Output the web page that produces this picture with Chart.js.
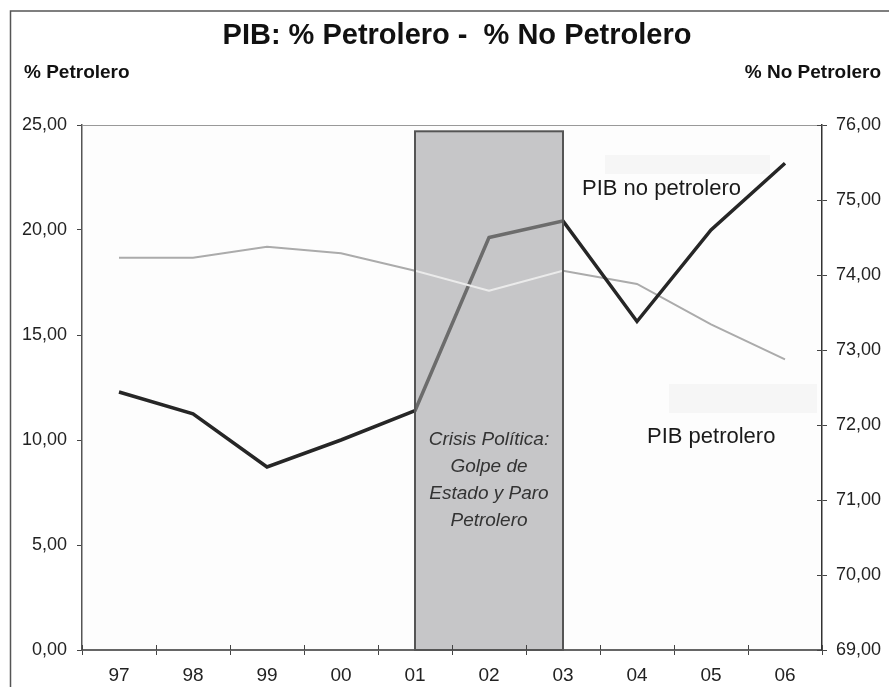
<!DOCTYPE html>
<html lang="es">
<head>
<meta charset="utf-8">
<title>PIB: % Petrolero - % No Petrolero</title>
<script src="https://cdn.jsdelivr.net/npm/chart.js@4.4.1/dist/chart.umd.min.js"></script>
<style>
  html, body { margin: 0; padding: 0; background: #fff; }
  #contenedor { position: relative; width: 889px; height: 687px; }
</style>
</head>
<body>
<div id="contenedor"><canvas id="graficoPib"></canvas></div>
<script>
// Datos
const anios = ['97', '98', '99', '00', '01', '02', '03', '04', '05', '06'];
const pibPetrolero = [18.68, 18.68, 19.20, 18.89, 18.06, 17.11, 18.06, 17.43, 15.51, 13.84];
const pibNoPetrolero = [72.44, 72.15, 71.44, 71.80, 72.19, 74.50, 74.72, 73.38, 74.60, 75.49];
const ticksPetrolero = [0, 5, 10, 15, 20, 25];
const ticksNoPetrolero = [69, 70, 71, 72, 73, 74, 75, 76];

// Periodo de la crisis (recuadro gris)
const crisisInicio = '01';
const crisisFin = '03';
const crisisTope = 24.7;
const crisisTexto = ['Crisis Política:', 'Golpe de', 'Estado y Paro', 'Petrolero'];

const FUENTE = '"Liberation Sans", Arial, sans-serif';
const formatoComa = v => Number(v).toFixed(2).replace('.', ',');

// Fondo, marco exterior y fondo del área de trazado
const pluginFondo = {
    id: 'pluginFondo',
    beforeDraw(chart) {
        const { ctx, chartArea: a } = chart;
        ctx.save();
        ctx.fillStyle = '#ffffff';
        ctx.fillRect(0, 0, chart.width, chart.height);
        ctx.fillStyle = '#fdfdfd';
        ctx.fillRect(a.left, a.top, a.right - a.left, a.bottom - a.top);
        ctx.strokeStyle = '#555555';
        ctx.lineWidth = 1.5;
        ctx.strokeRect(10.5, 11, chart.width + 20, chart.height + 20);
        ctx.restore();
    }
};

// Recuadro de la crisis, dibujado encima de las líneas
const pluginCrisis = {
    id: 'pluginCrisis',
    afterDatasetsDraw(chart) {
        const { ctx, scales: { x, y } } = chart;
        const x1 = x.getPixelForValue(anios.indexOf(crisisInicio));
        const x2 = x.getPixelForValue(anios.indexOf(crisisFin));
        const y1 = y.getPixelForValue(crisisTope);
        const y2 = y.getPixelForValue(0);

        ctx.save();
        ctx.fillStyle = '#c6c6c8';
        ctx.fillRect(x1, y1, x2 - x1, y2 - y1);

        // las líneas se ven atenuadas dentro del recuadro
        const coloresDentro = ['#6c6c6c', '#ebebeb'];
        ctx.beginPath();
        ctx.rect(x1, y1, x2 - x1, y2 - y1);
        ctx.clip();
        chart.data.datasets.forEach((ds, i) => {
            const pts = chart.getDatasetMeta(i).data;
            ctx.beginPath();
            pts.forEach((p, k) => k === 0 ? ctx.moveTo(p.x, p.y) : ctx.lineTo(p.x, p.y));
            ctx.strokeStyle = coloresDentro[i];
            ctx.lineWidth = ds.borderWidth;
            ctx.lineJoin = 'round';
            ctx.stroke();
        });
        ctx.restore();

        ctx.save();
        ctx.strokeStyle = '#555555';
        ctx.lineWidth = 2;
        ctx.strokeRect(x1, y1, x2 - x1, y2 - y1);

        ctx.fillStyle = '#333333';
        ctx.font = `italic 19px ${FUENTE}`;
        ctx.textAlign = 'center';
        ctx.textBaseline = 'middle';
        const cx = (x1 + x2) / 2;
        crisisTexto.forEach((t, i) => ctx.fillText(t, cx, 440 + i * 27));
        ctx.restore();
    }
};

// Títulos, etiquetas de series y marcas que cruzan los ejes
const pluginTextos = {
    id: 'pluginTextos',
    afterDraw(chart) {
        const { ctx, chartArea: a, scales: { x, y1 } } = chart;
        ctx.save();

        // línea superior del área de trazado
        ctx.strokeStyle = '#999999';
        ctx.lineWidth = 1;
        ctx.beginPath();
        ctx.moveTo(a.left, a.top + 0.5);
        ctx.lineTo(a.right, a.top + 0.5);
        ctx.stroke();

        // marcas hacia adentro
        ctx.strokeStyle = '#444444';
        ctx.lineWidth = 1;
        const medio = (x.getPixelForValue(1) - x.getPixelForValue(0)) / 2;
        for (let i = 0; i <= anios.length; i++) {
            const px = Math.round(x.getPixelForValue(i) - medio) + 0.5;
            ctx.beginPath();
            ctx.moveTo(px, a.bottom - 5);
            ctx.lineTo(px, a.bottom);
            ctx.stroke();
        }
        y1.ticks.forEach(t => {
            const py = Math.round(y1.getPixelForValue(t.value)) + 0.5;
            ctx.beginPath();
            ctx.moveTo(a.right - 5, py);
            ctx.lineTo(a.right, py);
            ctx.stroke();
        });

        // cuadros tenues detrás de las etiquetas
        ctx.fillStyle = '#f6f6f6';
        ctx.fillRect(605, 155, 165, 19);
        ctx.fillRect(669, 384, 148, 29);

        ctx.fillStyle = '#111111';
        ctx.textBaseline = 'middle';
        ctx.textAlign = 'center';
        ctx.font = `bold 29px ${FUENTE}`;
        ctx.fillText('PIB: % Petrolero -  % No Petrolero', 457, 36);

        ctx.font = `bold 19px ${FUENTE}`;
        ctx.textAlign = 'left';
        ctx.fillText('% Petrolero', 24, 73);
        ctx.textAlign = 'right';
        ctx.fillText('% No Petrolero', 881, 73);

        ctx.fillStyle = '#1a1a1a';
        ctx.font = `22px ${FUENTE}`;
        ctx.textAlign = 'left';
        ctx.fillText('PIB no petrolero', 582, 189);
        ctx.fillText('PIB petrolero', 647, 437);
        ctx.restore();
    }
};

function inicializarGrafico() {
    const ctx = document.getElementById('graficoPib').getContext('2d');
    new Chart(ctx, {
        type: 'line',
        data: {
            labels: anios,
            datasets: [
                {
                    label: 'PIB no petrolero',
                    data: pibNoPetrolero,
                    yAxisID: 'y1',
                    borderColor: '#262626',
                    borderWidth: 3.5,
                    pointRadius: 0,
                    tension: 0,
                    fill: false
                },
                {
                    label: 'PIB petrolero',
                    data: pibPetrolero,
                    yAxisID: 'y',
                    borderColor: '#ababab',
                    borderWidth: 2,
                    pointRadius: 0,
                    tension: 0,
                    fill: false
                }
            ]
        },
        options: {
            responsive: true,
            maintainAspectRatio: false,
            animation: false,
            layout: { padding: { top: 125, left: 0, right: 0, bottom: 0 } },
            plugins: {
                legend: { display: false },
                tooltip: { enabled: false }
            },
            scales: {
                x: {
                    type: 'category',
                    offset: true,
                    grid: { display: true, drawOnChartArea: false, drawTicks: true, tickLength: 5, offset: true, color: '#444444' },
                    border: { display: true, color: '#666666', width: 2 },
                    ticks: { color: '#222222', padding: 9, font: { size: 19, family: FUENTE } },
                    afterFit(scale) { scale.height = 37; }
                },
                y: {
                    position: 'left',
                    min: 0,
                    max: 25,
                    grid: { display: true, drawOnChartArea: false, drawTicks: true, tickLength: 5, color: '#444444' },
                    border: { display: true, color: '#555555', width: 1.5 },
                    ticks: { color: '#222222', padding: 10, font: { size: 18, family: FUENTE }, callback: formatoComa },
                    afterBuildTicks(scale) { scale.ticks = ticksPetrolero.map(v => ({ value: v })); },
                    afterFit(scale) { scale.width = 82; }
                },
                y1: {
                    position: 'right',
                    min: 69,
                    max: 76,
                    grid: { display: true, drawOnChartArea: false, drawTicks: true, tickLength: 5, color: '#444444' },
                    border: { display: true, color: '#333333', width: 1.5 },
                    ticks: { color: '#222222', padding: 9, font: { size: 18, family: FUENTE }, callback: formatoComa },
                    afterBuildTicks(scale) { scale.ticks = ticksNoPetrolero.map(v => ({ value: v })); },
                    afterFit(scale) { scale.width = 67; }
                }
            }
        },
        plugins: [pluginFondo, pluginCrisis, pluginTextos]
    });
}

window.onload = () => { inicializarGrafico(); };
</script>
</body>
</html>
